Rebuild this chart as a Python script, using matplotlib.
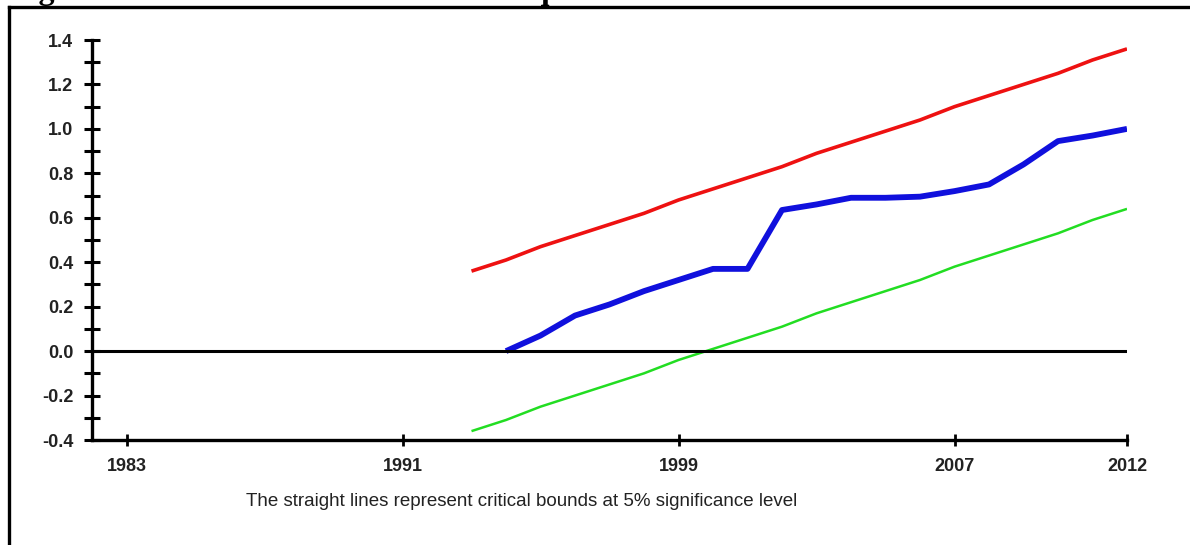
import matplotlib
matplotlib.use("Agg")
import matplotlib.pyplot as plt
from matplotlib.lines import Line2D
from matplotlib.ticker import MultipleLocator

# years of the bounds and of the CUSUMSQ statistic
years_bounds = list(range(1993, 2013))
upper = [0.36, 0.41, 0.47, 0.52, 0.57, 0.62, 0.68, 0.73, 0.78, 0.83,
         0.89, 0.94, 0.99, 1.04, 1.10, 1.15, 1.20, 1.25, 1.31, 1.36]
lower = [-0.36, -0.31, -0.25, -0.20, -0.15, -0.10, -0.04, 0.01, 0.06, 0.11,
         0.17, 0.22, 0.27, 0.32, 0.38, 0.43, 0.48, 0.53, 0.59, 0.64]

years_cusum = list(range(1994, 2013))
cusumsq = [0.00, 0.07, 0.16, 0.21, 0.27, 0.32, 0.37, 0.37, 0.635, 0.66,
           0.69, 0.69, 0.695, 0.72, 0.75, 0.84, 0.945, 0.97, 1.00]

xticks = [1983, 1991, 1999, 2007, 2012]
yticks = [-0.4, -0.2, 0.0, 0.2, 0.4, 0.6, 0.8, 1.0, 1.2, 1.4]

W, H = 1190, 545
fig = plt.figure(figsize=(W / 100, H / 100), dpi=100)
ax = fig.add_axes([92 / W, 1 - 440 / H, (1127 - 92) / W, 400 / H])

ax.plot(years_bounds, upper, color="#ee1111", lw=2.6, solid_capstyle="butt")
ax.plot(years_bounds, lower, color="#22dd22", lw=1.8, solid_capstyle="butt")
ax.plot(years_cusum, cusumsq, color="#1010dd", lw=4.2, solid_capstyle="butt")
ax.axhline(0, color="black", lw=2.2)

ax.set_xlim(1982, 2012)
ax.set_ylim(-0.4, 1.4)
for s in ["top", "right"]:
    ax.spines[s].set_visible(False)
for s in ["left", "bottom"]:
    ax.spines[s].set_linewidth(2.4)

ax.set_xticks(xticks)
ax.set_xticklabels([str(x) for x in xticks])
ax.set_yticks(yticks)
ax.set_yticklabels(["%.1f" % y for y in yticks])
ax.yaxis.set_minor_locator(MultipleLocator(0.1))
ax.tick_params(axis="y", which="both", direction="inout", length=11, width=2.2, pad=8)
ax.tick_params(axis="x", which="major", direction="inout", length=8, width=2, pad=9)
for lab in ax.get_xticklabels() + ax.get_yticklabels():
    lab.set_fontfamily("Liberation Sans")
    lab.set_fontweight("bold")
    lab.set_fontsize(13)
    lab.set_color("#222222")

fig.text(522 / W, 1 - 502 / H,
         "The straight lines represent critical bounds at 5% significance level",
         ha="center", va="center", fontsize=13.5, family="Liberation Sans", color="#222222")

# title of the page, mostly cut off above the picture (as in the reference)
fig.text(10 / W, 1 + 1 / H,
         "Figure 2: Plot of Cumulative Sum of Squares of Recursive Residuals",
         ha="left", va="baseline", fontsize=23, family="Liberation Serif", fontweight="bold")

# frame of the page
fig.add_artist(Line2D([9 / W, 1], [1 - 7 / H, 1 - 7 / H], color="black", lw=2.4))
fig.add_artist(Line2D([9 / W, 9 / W], [0, 1 - 7 / H], color="black", lw=2.4))

fig.savefig("out.png", dpi=100)
